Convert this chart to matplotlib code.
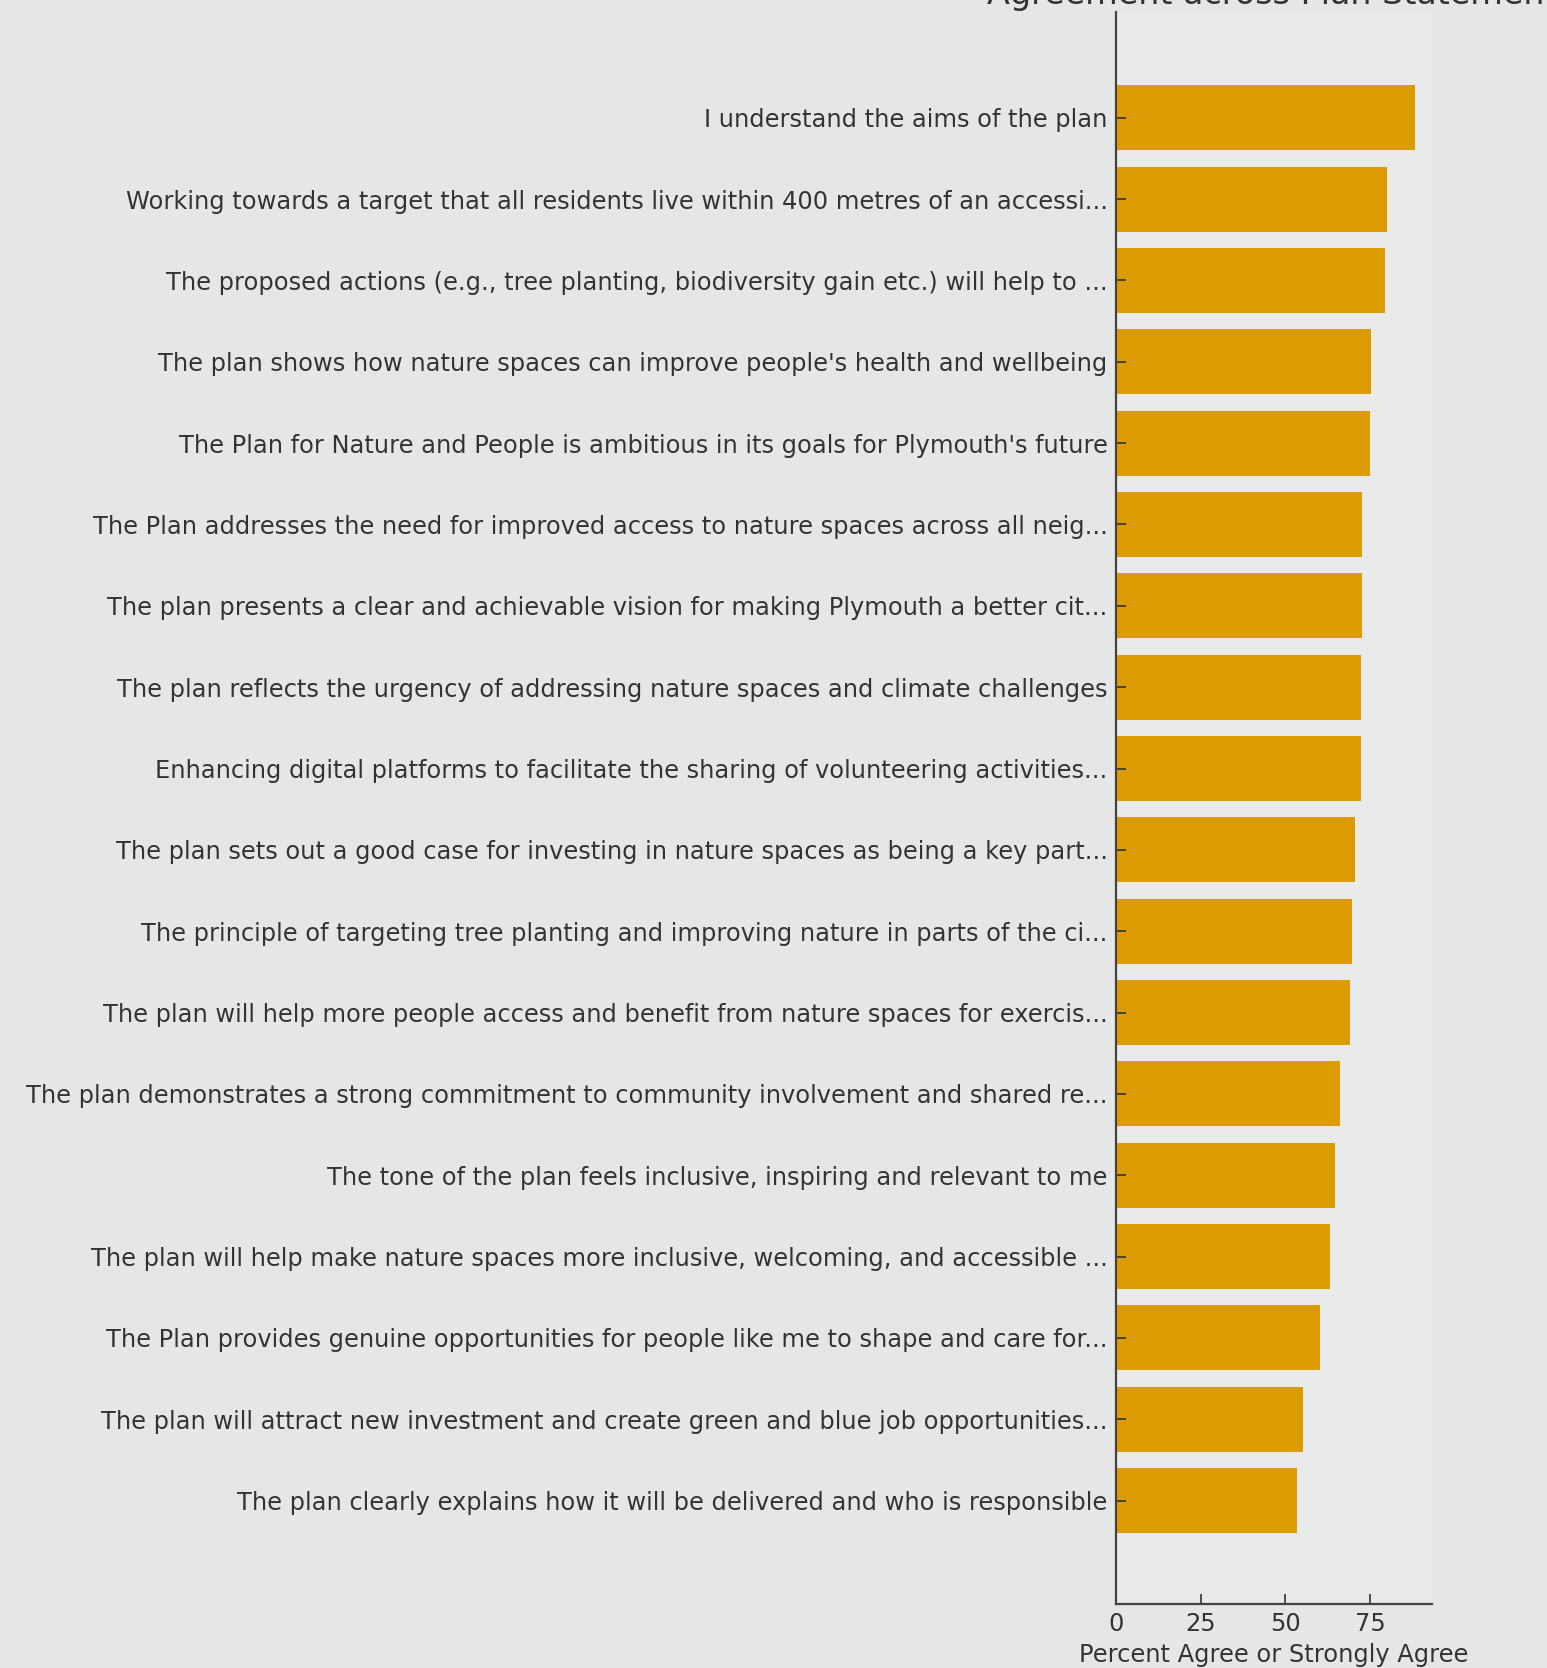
import matplotlib.pyplot as plt

# Statements (top to bottom) and percent agree / strongly agree
statements = [
	"I understand the aims of the plan",
	"Working towards a target that all residents live within 400 metres of an accessi...",
	"The proposed actions (e.g., tree planting, biodiversity gain etc.) will help to ...",
	"The plan shows how nature spaces can improve people's health and wellbeing",
	"The Plan for Nature and People is ambitious in its goals for Plymouth's future",
	"The Plan addresses the need for improved access to nature spaces across all neig...",
	"The plan presents a clear and achievable vision for making Plymouth a better cit...",
	"The plan reflects the urgency of addressing nature spaces and climate challenges",
	"Enhancing digital platforms to facilitate the sharing of volunteering activities...",
	"The plan sets out a good case for investing in nature spaces as being a key part...",
	"The principle of targeting tree planting and improving nature in parts of the ci...",
	"The plan will help more people access and benefit from nature spaces for exercis...",
	"The plan demonstrates a strong commitment to community involvement and shared re...",
	"The tone of the plan feels inclusive, inspiring and relevant to me",
	"The plan will help make nature spaces more inclusive, welcoming, and accessible ...",
	"The Plan provides genuine opportunities for people like me to shape and care for...",
	"The plan will attract new investment and create green and blue job opportunities...",
	"The plan clearly explains how it will be delivered and who is responsible",
]
pct_agree = [88.3, 80.0, 79.4, 75.4, 74.9, 72.6, 72.5, 72.4, 72.2, 70.5,
	69.7, 69.2, 66.1, 64.6, 63.1, 60.1, 55.2, 53.4]
xticks = [0, 25, 50, 75]


def main():
	bg = '#e5e7e6'
	fig = plt.figure(figsize=(15.47, 16.68), dpi=100, facecolor=bg)
	ax = fig.add_axes([0.7214, 0.0384, 0.2043, 0.9544])
	ax.set_facecolor('#e9ebea')

	# Horizontal bars, first statement on top
	ax.barh(range(len(statements)), pct_agree, height=0.8, color='#dc9a03')
	ax.set_yticks(range(len(statements)))
	ax.set_yticklabels(statements)
	ax.set_ylim(18.27, -1.30)
	ax.set_xlim(0, 93.3)
	ax.set_xticks(xticks)

	# Styling: only left and bottom spines, ticks pointing in
	for side in ['top', 'right']:
		ax.spines[side].set_visible(False)
	for side in ['left', 'bottom']:
		ax.spines[side].set_color('#444444')
		ax.spines[side].set_linewidth(1.6)
	ax.tick_params(axis='both', direction='in', length=7, width=1.2,
		colors='#333333', labelsize=17.4, pad=6)
	ax.set_xlabel('Percent Agree or Strongly Agree', fontsize=17.4, color='#333333', labelpad=5)

	# Title sits mostly above the visible area
	fig.text(0.6380, 1 - 4 / 1668, 'Agreement across Plan Statements', fontsize=24,
		color='#333333', ha='left', va='baseline')

	fig.savefig('out.png', dpi=100, facecolor=bg)


if __name__ == '__main__':
	main()
